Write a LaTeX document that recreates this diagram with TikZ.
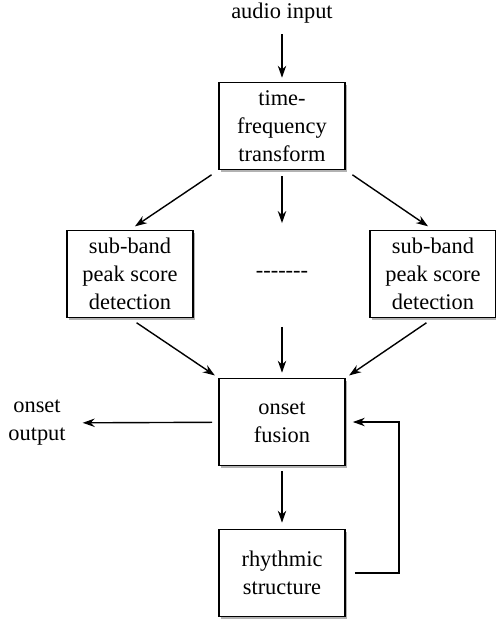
\documentclass[tikz,border=0pt]{standalone}
\usepackage{fontspec}
\setmainfont{Liberation Serif}
\usepackage{tikz}
\usetikzlibrary{arrows.meta,shadows}

\tikzset{
    spot/.style={align=center, minimum width=63pt, minimum height=43.5pt, inner sep=1pt},
    block/.style={spot, draw, line width=0.8pt, fill=white,
        drop shadow={shadow xshift=1pt, shadow yshift=-1pt, fill=black!30, opacity=1}},
    arr/.style={-{Stealth[length=6pt, width=4.2pt]}, line width=0.7pt},
}

\begin{document}
\begin{tikzpicture}[x=0.5pt, y=-0.5pt, font=\fontsize{11.2}{14}\selectfont]
            \useasboundingbox (0,0) rectangle (496,623);

            \node (in) at (282,13) {audio input};
            \node[block] (tf) at (282,126) {time-\\frequency\\transform};
            \draw[arr, shorten <=2pt, shorten >=2pt] (in) -- (tf);

            \node[block] (sl) at (130,274) {sub-band\\peak score\\detection};
            \node[spot] (dots) at (282,274) {-{}-{}-{}-{}-{}-{}-};
            \node[block] (sr) at (433,274) {sub-band\\peak score\\detection};
            \draw[arr, shorten <=4pt, shorten >=3pt] (tf.south west) -- (sl.north);
            \draw[arr, shorten <=3pt, shorten >=3.5pt] (tf) -- (dots);
            \draw[arr, shorten <=4pt, shorten >=3pt] (tf.south east) -- (sr.north);

            \node[block] (fu) at (282,422) {onset\\fusion};
            \draw[arr, shorten <=4pt, shorten >=2pt] (sl.south) -- (fu.north west);
            \draw[arr, shorten <=4.5pt, shorten >=2.5pt] (dots) -- (fu);
            \draw[arr, shorten <=4pt, shorten >=2pt] (sr.south) -- (fu.north east);

            \node[align=center] (out) at (37,423) {onset\\output};
            \draw[arr, shorten <=3pt, shorten >=5pt] (fu) -- (out);

            \node[block] (rh) at (282,573) {rhythmic\\structure};
            \draw[arr, shorten <=2.5pt, shorten >=3pt] (fu) -- (rh);
            \draw[arr, shorten <=4.5pt, shorten >=3.5pt] (rh.east) -- ++(53,0) |- (fu.east);
        \end{tikzpicture}
\end{document}
